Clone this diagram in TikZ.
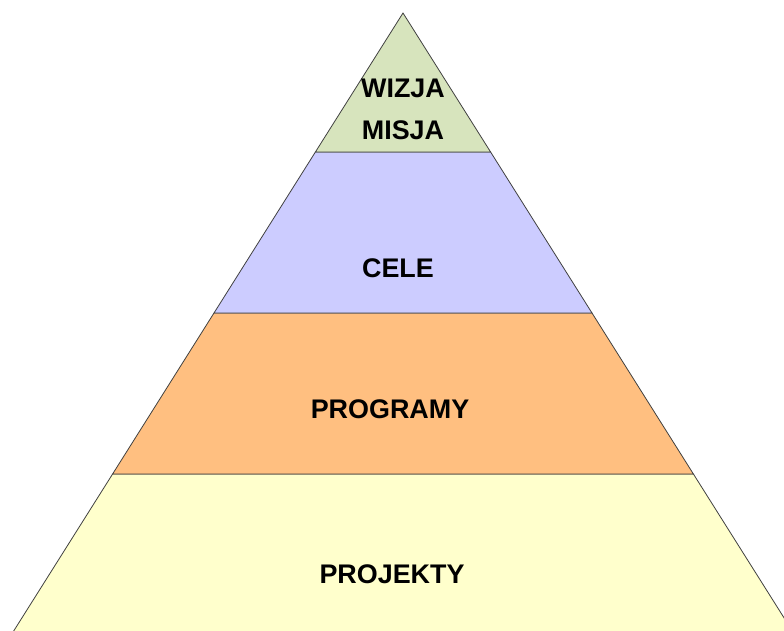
\documentclass[tikz,border=0pt]{standalone}
\usepackage{fontspec}
\setmainfont{Liberation Sans}
\usetikzlibrary{positioning}
\definecolor{wizjagreen}{RGB}{215,228,189}
\definecolor{celeblue}{RGB}{204,204,255}
\definecolor{progorange}{RGB}{255,191,128}
\definecolor{projyellow}{RGB}{255,255,204}
\tikzstyle{layer} = [draw=black!75, line width=0.8pt, line join=miter]
\tikzstyle{label} = [font=\fontsize{26.9}{28}\selectfont\bfseries, text=black, inner sep=0pt]

\begin{document}
\begin{tikzpicture}[x=1pt, y=-1pt]

	\useasboundingbox (0,0) rectangle (784,630);
	\clip (0,0) rectangle (784,630);


% Layers of the pyramid

	\filldraw [layer, fill=projyellow] (112.6,474) -- (693.4,474) -- (798,640) -- (8,640) -- cycle;
	\filldraw [layer, fill=progorange] (214,313) -- (592,313) -- (693.4,474) -- (112.6,474) -- cycle;
	\filldraw [layer, fill=celeblue] (315.4,152) -- (490.6,152) -- (592,313) -- (214,313) -- cycle;
	\filldraw [layer, fill=wizjagreen] (403,13) -- (490.6,152) -- (315.4,152) -- cycle;


% Labels

	\node (wizja) [label] at (403,88) {WIZJA};
	\node (misja) [label] at (403,130) {MISJA};
	\node (cele) [label] at (398,268) {CELE};
	\node (programy) [label] at (390,409) {PROGRAMY};
	\node (projekty) [label] at (392,574) {PROJEKTY};

\end{tikzpicture}
\end{document}
